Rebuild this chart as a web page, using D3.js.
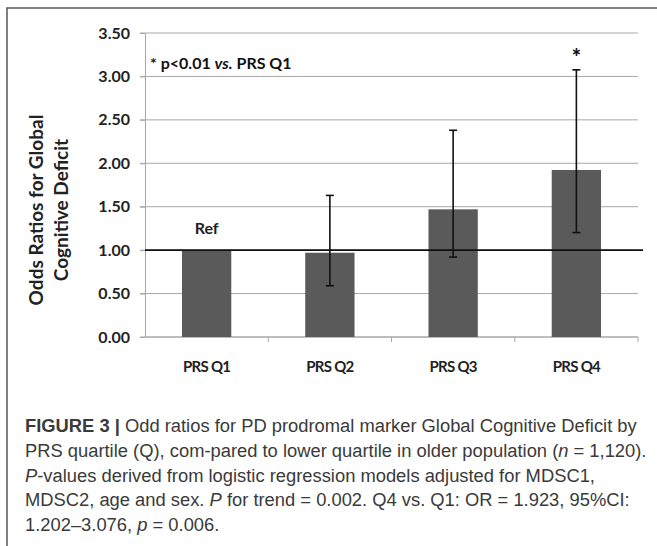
<!DOCTYPE html>
<html>
<head>
<meta charset="utf-8">
<script src="https://cdn.jsdelivr.net/npm/d3@7"></script>
<style>
  body { margin: 0; background: #fff; }
  svg { display: block; }
</style>
</head>
<body>
<svg id="chart"></svg>
<script>
const categories = ["PRS Q1", "PRS Q2", "PRS Q3", "PRS Q4"];
const oddsRatios = [1.00, 0.97, 1.47, 1.923];
const ciLow = [null, 0.59, 0.92, 1.202];
const ciHigh = [null, 1.63, 2.38, 3.076];
const significant = [false, false, false, true];
const yTicks = [0, 0.5, 1, 1.5, 2, 2.5, 3, 3.5];

const captionLines = [
  [["FIGURE 3 | ", "b"], ["Odd ratios for PD prodromal marker Global Cognitive Deficit by", ""]],
  [["PRS quartile (Q), com-pared to lower quartile in older population (", ""], ["n", "i"], [" = 1,120).", ""]],
  [["P", "i"], ["-values derived from logistic regression models adjusted for MDSC1,", ""]],
  [["MDSC2, age and sex. ", ""], ["P", "i"], [" for trend = 0.002. Q4 vs. Q1: OR = 1.923, 95%CI:", ""]],
  [["1.202\u20133.076, ", ""], ["p", "i"], [" = 0.006.", ""]]
];

const W = 657, H = 546;
const plot = { left: 145, right: 638, top: 33, bottom: 337 };
const boldFont = "Lato, 'Open Sans', sans-serif";

const svg = d3.select("#chart")
  .attr("width", W)
  .attr("height", H);

// frame (open on right and bottom)
svg.append("path")
  .attr("d", `M7,${H} L7,8 L${W},8`)
  .attr("fill", "none")
  .attr("stroke", "#555")
  .attr("stroke-width", 1.5);

// scales
const x = d3.scaleBand()
  .domain(categories)
  .range([plot.left, plot.right])
  .paddingInner(0.6)
  .paddingOuter(0.3);

const y = d3.scaleLinear()
  .domain([0, 3.5])
  .range([plot.bottom, plot.top]);

// gridlines
svg.append("g")
  .selectAll("line")
  .data(yTicks)
  .enter().append("line")
  .attr("x1", plot.left - 5)
  .attr("x2", plot.right)
  .attr("y1", d => y(d))
  .attr("y2", d => y(d))
  .attr("stroke", "#a8a8a8")
  .attr("stroke-width", 1);

// y axis
const yAxis = d3.axisLeft(y)
  .tickValues(yTicks)
  .tickFormat(d3.format(".2f"))
  .tickSize(5)
  .tickPadding(10);

const gy = svg.append("g")
  .attr("transform", "translate(" + plot.left + ",0)")
  .call(yAxis);
gy.select(".domain").attr("stroke", "#a8a8a8");
gy.selectAll(".tick line").attr("stroke", "#a8a8a8");
gy.selectAll(".tick text")
  .attr("font-family", boldFont)
  .attr("font-weight", "bold")
  .attr("font-size", 16)
  .attr("fill", "#222");

// x axis: ticks between categories
const xAxisY = y(0);
svg.append("line")
  .attr("x1", plot.left).attr("x2", plot.right)
  .attr("y1", xAxisY).attr("y2", xAxisY)
  .attr("stroke", "#a8a8a8");

const step = x.step();
svg.append("g")
  .selectAll("line")
  .data(categories)
  .enter().append("line")
  .attr("x1", d => x(d) - step * 0.3 + step)
  .attr("x2", d => x(d) - step * 0.3 + step)
  .attr("y1", xAxisY)
  .attr("y2", xAxisY + 5)
  .attr("stroke", "#a8a8a8");

svg.append("g")
  .selectAll("text")
  .data(categories)
  .enter().append("text")
  .attr("x", d => x(d) + x.bandwidth() / 2)
  .attr("y", 372)
  .attr("text-anchor", "middle")
  .attr("font-family", boldFont)
  .attr("font-weight", "bold")
  .attr("font-size", 15)
  .attr("letter-spacing", -0.7)
  .attr("fill", "#222")
  .text(d => d);

// bars
svg.append("g")
  .selectAll("rect")
  .data(categories)
  .enter().append("rect")
  .attr("x", d => x(d))
  .attr("width", x.bandwidth())
  .attr("y", (d, i) => y(oddsRatios[i]))
  .attr("height", (d, i) => y(0) - y(oddsRatios[i]))
  .attr("fill", "#5a5a5a");

// reference line at OR = 1
svg.append("line")
  .attr("x1", plot.left)
  .attr("x2", plot.right + 5)
  .attr("y1", y(1))
  .attr("y2", y(1))
  .attr("stroke", "#111")
  .attr("stroke-width", 1.6);

// error bars
const errData = categories.map((c, i) => ({ c, lo: ciLow[i], hi: ciHigh[i] }))
  .filter(d => d.lo !== null);

const err = svg.append("g")
  .attr("stroke", "#111")
  .attr("stroke-width", 1.6);

err.selectAll(".stem")
  .data(errData)
  .enter().append("line")
  .attr("x1", d => x(d.c) + x.bandwidth() / 2)
  .attr("x2", d => x(d.c) + x.bandwidth() / 2)
  .attr("y1", d => y(d.lo))
  .attr("y2", d => y(d.hi));

["lo", "hi"].forEach(k => {
  err.selectAll(".cap-" + k)
    .data(errData)
    .enter().append("line")
    .attr("x1", d => x(d.c) + x.bandwidth() / 2 - 4)
    .attr("x2", d => x(d.c) + x.bandwidth() / 2 + 4)
    .attr("y1", d => y(d[k]))
    .attr("y2", d => y(d[k]));
});

// significance asterisks
svg.append("g")
  .selectAll("text")
  .data(categories.filter((c, i) => significant[i]))
  .enter().append("text")
  .attr("x", d => x(d) + x.bandwidth() / 2)
  .attr("y", (d) => y(ciHigh[categories.indexOf(d)]) - 5)
  .attr("text-anchor", "middle")
  .attr("font-family", boldFont)
  .attr("font-weight", "900")
  .attr("font-size", 22)
  .attr("fill", "#111")
  .text("*");

// "Ref" label over Q1
svg.append("text")
  .attr("x", x(categories[0]) + x.bandwidth() / 2)
  .attr("y", y(1) - 16)
  .attr("text-anchor", "middle")
  .attr("font-family", boldFont)
  .attr("font-weight", "bold")
  .attr("font-size", 16)
  .attr("fill", "#222")
  .text("Ref");

// annotation
const note = svg.append("text")
  .attr("x", 150)
  .attr("y", 69)
  .attr("font-family", boldFont)
  .attr("font-weight", "bold")
  .attr("font-size", 16)
  .attr("fill", "#111");
note.append("tspan").text("* p<0.01 ");
note.append("tspan").attr("font-style", "italic").text("vs.");
note.append("tspan").text(" PRS Q1");

// y axis title
const yTitle = svg.append("text")
  .attr("transform", "translate(49,210) rotate(-90)")
  .attr("text-anchor", "middle")
  .attr("font-family", boldFont)
  .attr("font-weight", "bold")
  .attr("font-size", 19)
  .attr("fill", "#222");
yTitle.append("tspan").attr("x", 0).attr("dy", "-0.32em").text("Odds Ratios for Global");
yTitle.append("tspan").attr("x", 0).attr("dy", "1.3em").text("Cognitive Deficit");

// caption
const capFont = "'Liberation Sans', Arial, sans-serif";
const caption = svg.append("g")
  .attr("font-family", capFont)
  .attr("font-size", 16)
  .attr("fill", "#3a3a3a");

const baselines = [432, 457, 482, 506, 531];
captionLines.forEach((parts, li) => {
  const t = caption.append("text")
    .attr("x", 25)
    .attr("y", baselines[li]);
  parts.forEach(([txt, st]) => {
    const sp = t.append("tspan").text(txt);
    if (st === "b") sp.attr("font-weight", "bold");
    if (st === "i") sp.attr("font-style", "italic");
  });
});

// fit caption so that first line spans the same width as the reference
const first = caption.select("text").node().getComputedTextLength();
caption.attr("font-size", 16 * 612 / first);
</script>
</body>
</html>
